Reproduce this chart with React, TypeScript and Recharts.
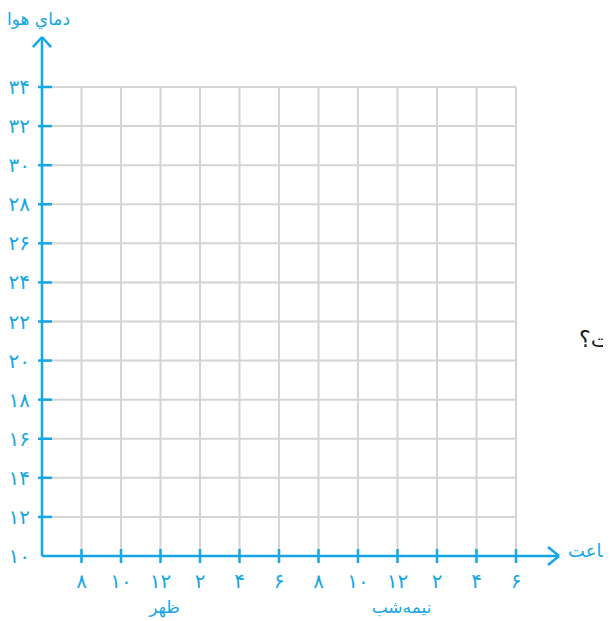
// نمودار خالی دمای هوا بر حسب ساعت

import React from 'react';
import { LineChart, XAxis, YAxis, CartesianGrid, ReferenceLine } from 'recharts';

// ── داده ──

const HOUR_POSITIONS = [0, 1, 2, 3, 4, 5, 6, 7, 8, 9, 10, 11, 12];
const HOUR_LABELS = ['۸', '۱۰', '۱۲', '۲', '۴', '۶', '۸', '۱۰', '۱۲', '۲', '۴', '۶'];
const HOUR_NOTES: Record<number, string> = { 3: 'ظهر', 9: 'نیمه‌شب' };

const TEMP_TICKS = [10, 12, 14, 16, 18, 20, 22, 24, 26, 28, 30, 32, 34];

// ── رنگ‌ها ──

const BLUE = '#16a6e4';
const GRID = '#d4d4d4';
const FONT = '"DejaVu Sans", "Noto Sans", sans-serif';

const toFa = (n: number): string =>
  String(n).replace(/\d/g, (d) => '۰۱۲۳۴۵۶۷۸۹'[Number(d)]);

// جدول برای محورها (نمودار خالی است؛ هیچ سری رسم نمی‌شود)
const rows = HOUR_POSITIONS.map((h, i) => ({ h, t: TEMP_TICKS[i] }));

// ── تیک‌ها ──

function HourTick(props: { x?: number; y?: number; payload?: { value: number } }) {
  const { x = 0, y = 0, payload } = props;
  const v = payload?.value ?? 0;
  if (v === 0) return null;
  const note = HOUR_NOTES[v];
  return (
    <g>
      <line x1={x} x2={x} y1={y - 7} y2={y + 7} stroke={BLUE} strokeWidth={2.5} />
      <text x={x} y={y + 25} textAnchor="middle" dominantBaseline="central"
        fill={BLUE} fontSize={20} fontFamily={FONT}>
        {HOUR_LABELS[v - 1]}
      </text>
      {note && (
        <text x={x + 4} y={y + 51} textAnchor="middle" dominantBaseline="central"
          fill={BLUE} fontSize={17} fontFamily={FONT}>
          {note}
        </text>
      )}
    </g>
  );
}

function TempTick(props: { x?: number; y?: number; payload?: { value: number } }) {
  const { x = 0, y = 0, payload } = props;
  const v = payload?.value ?? 0;
  return (
    <g>
      {v !== 10 && (
        <line x1={x - 4} x2={x + 10} y1={y} y2={y} stroke={BLUE} strokeWidth={2.5} />
      )}
      <text x={x - 12} y={y} textAnchor="end" dominantBaseline="central"
        fill={BLUE} fontSize={20} fontFamily={FONT}>
        {toFa(v)}
      </text>
    </g>
  );
}

// ── محورها با پیکان ──

const Y_TOP = 36.56;
const X_END = 13.09;

const axisSegments: { x: number; y: number }[][] = [
  [{ x: 0, y: 10 }, { x: 0, y: Y_TOP }],
  [{ x: -0.23, y: Y_TOP - 0.52 }, { x: 0, y: Y_TOP }],
  [{ x: 0.23, y: Y_TOP - 0.52 }, { x: 0, y: Y_TOP }],
  [{ x: 0, y: 10 }, { x: X_END, y: 10 }],
  [{ x: X_END - 0.28, y: 10.46 }, { x: X_END, y: 10 }],
  [{ x: X_END - 0.28, y: 9.54 }, { x: X_END, y: 10 }],
];

export default function App() {
  return (
    <div style={{ position: 'relative', width: 603, height: 613, overflow: 'hidden' }}>
      <LineChart
        width={603}
        height={613}
        data={rows}
        margin={{ top: 79, right: 95, bottom: 0, left: 0 }}
      >
        <CartesianGrid stroke={GRID} strokeWidth={2} />
        <XAxis
          dataKey="h"
          type="number"
          domain={[0, 12]}
          ticks={HOUR_POSITIONS}
          interval={0}
          height={65}
          axisLine={false}
          tickLine={false}
          tickSize={0}
          tickMargin={0}
          tick={<HourTick />}
        />
        <YAxis
          dataKey="t"
          type="number"
          domain={[10, 34]}
          ticks={TEMP_TICKS}
          interval={0}
          width={34}
          axisLine={false}
          tickLine={false}
          tickSize={0}
          tickMargin={0}
          tick={<TempTick />}
        />
        {axisSegments.map((seg, i) => (
          <ReferenceLine key={i} segment={seg} ifOverflow="visible"
            stroke={BLUE} strokeWidth={2.5} />
        ))}
      </LineChart>

      <span style={{ position: 'absolute', left: -1, top: 1, color: BLUE, fontSize: 17,
        fontFamily: FONT, whiteSpace: 'nowrap' }}>
        دماي هوا
      </span>
      <span style={{ position: 'absolute', left: 560, top: 532, color: BLUE, fontSize: 18,
        fontFamily: FONT, whiteSpace: 'nowrap' }}>
        ساعت
      </span>
      <span style={{ position: 'absolute', left: 571, top: 319, color: '#1a1a1a', fontSize: 22,
        fontFamily: FONT, whiteSpace: 'nowrap' }}>
        است؟
      </span>
    </div>
  );
}
